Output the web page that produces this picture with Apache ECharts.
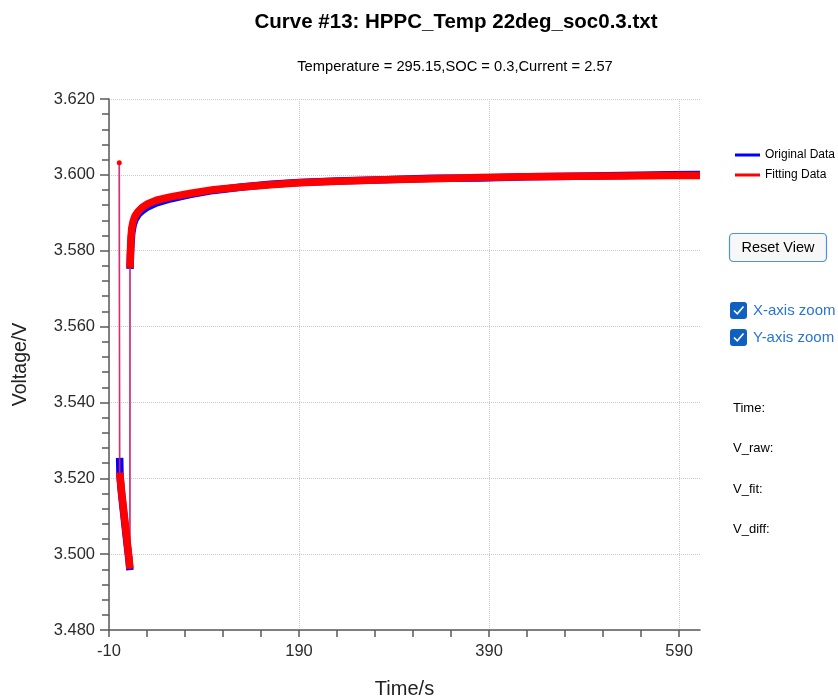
<!DOCTYPE html>
<html>
<head>
<meta charset="utf-8">
<title>Curve #13: HPPC_Temp 22deg_soc0.3.txt</title>
<script src="https://cdn.jsdelivr.net/npm/echarts@6/dist/echarts.min.js"></script>
<style>
  html, body { margin: 0; padding: 0; background: #ffffff; }
  #chart { width: 838px; height: 699px; }
</style>
</head>
<body>
<div id="chart"></div>
<script>
// HPPC pulse test at 22 degC, SOC 0.3: measured voltage vs. fitted model voltage.

// Rest point just before the current pulse [time s, voltage V]
const preRawPoint = [0.8, 3.6032];
const preFitPoint = [0.8, 3.6032];

// Voltage during the discharge pulse
const pulseTime = [1.2, 1.6, 3, 5, 7, 9, 11, 12.0];
const pulseRaw  = [3.5254, 3.5205, 3.5165, 3.5118, 3.5073, 3.5028, 3.4985, 3.4958];
const pulseFit  = [3.5215, 3.5207, 3.5170, 3.5125, 3.5080, 3.5035, 3.4990, 3.4962];

// Voltage during the relaxation after the pulse
const relaxTime = [12.1, 12.6, 13.2, 14.0, 15.5, 17.5, 20.5, 25, 31, 40, 55, 75, 100, 130, 160, 190, 230, 280, 330, 380, 430, 480, 530, 580, 612];
const relaxRaw  = [3.5752, 3.5790, 3.5822, 3.5848, 3.5868, 3.5883, 3.5895, 3.5906, 3.5916, 3.5926, 3.5937, 3.5948, 3.5959, 3.5968, 3.5975, 3.5980, 3.5984, 3.5987, 3.5991, 3.5992, 3.5995, 3.5996, 3.5998, 3.6000, 3.6001];
const relaxFit  = [3.5755, 3.5800, 3.5835, 3.5860, 3.5878, 3.5892, 3.5903, 3.5914, 3.5924, 3.5933, 3.5942, 3.5951, 3.5961, 3.5968, 3.5974, 3.5979, 3.5983, 3.5987, 3.5990, 3.5993, 3.5995, 3.5996, 3.5997, 3.5998, 3.5998];

// Axis ticks
const xMajorTicks = [-10, 190, 390, 590];
const xMinorTicks = [30, 70, 110, 150, 230, 270, 310, 350, 430, 470, 510, 550];
const yMin = 3.48, yMax = 3.62, yStep = 0.02;
const xMin = -10, xMax = 612;

const BLUE = '#0000ff';
const RED = '#ff0000';
const FONT = '"Liberation Sans", Arial, sans-serif';

function zip(ts, vs) { return ts.map((t, i) => [t, vs[i]]); }

const rawPulse = zip(pulseTime, pulseRaw);
const fitPulse = zip(pulseTime, pulseFit);
const rawRelax = zip(relaxTime, relaxRaw);
const fitRelax = zip(relaxTime, relaxFit);

// Thin jumps: rest -> pulse start, pulse end -> relaxation start
function jumps(pre, pulse, relax) {
  return [pre, pulse[0], pulse[pulse.length - 1], relax[0]];
}

function thick(name, color, data, z) {
  return {
    name, type: 'line', data, z,
    symbol: 'none', animation: false, smooth: false,
    lineStyle: { color, width: 7.5, cap: 'butt', join: 'round' },
    itemStyle: { color }
  };
}

function thin(name, color, data, z, width, opacity) {
  return {
    name, type: 'line', data, z,
    symbol: 'none', animation: false,
    lineStyle: { color, width, opacity },
    itemStyle: { color }
  };
}

const fitJumps = jumps(preFitPoint, fitPulse, fitRelax).map((p, i) =>
  i === 0 ? { value: p, symbol: 'circle', symbolSize: 5, itemStyle: { color: RED } } : p);

const chart = echarts.init(document.getElementById('chart'), null, { renderer: 'canvas' });

const axisColor = '#5a5a5a';
const labelStyle = { color: '#2b2b2b', fontFamily: FONT, fontSize: 16.5 };

chart.setOption({
  backgroundColor: '#ffffff',
  animation: false,
  grid: { left: 109, right: 138, top: 99, bottom: 69, containLabel: false, outerBoundsMode: 'none' },
  legend: {
    orient: 'vertical',
    left: 730,
    top: 143,
    icon: 'rect',
    itemWidth: 25,
    itemHeight: 3,
    itemGap: 6,
    textStyle: { color: '#000', fontFamily: FONT, fontSize: 12, lineHeight: 14 },
    data: [
      { name: 'Original Data', itemStyle: { color: BLUE } },
      { name: 'Fitting Data', itemStyle: { color: RED } }
    ]
  },
  xAxis: [
    {
      type: 'value', min: xMin, max: xMax, interval: 200, position: 'bottom',
      name: 'Time/s', nameLocation: 'middle', nameGap: 49,
      nameTextStyle: { color: '#222', fontFamily: FONT, fontSize: 20 },
      axisLine: { onZero: false, lineStyle: { color: axisColor, width: 1.5 } },
      axisTick: { show: true, length: 7, customValues: xMajorTicks, lineStyle: { color: axisColor, width: 1.5 } },
      axisLabel: Object.assign({ margin: 13, customValues: xMajorTicks }, labelStyle),
      splitLine: { show: true, lineStyle: { color: '#cccccc', type: 'dotted', width: 1 } }
    },
    {
      type: 'value', min: xMin, max: xMax, interval: 200, position: 'bottom',
      axisLine: { show: false, onZero: false },
      axisTick: { show: true, length: 7, customValues: xMinorTicks, lineStyle: { color: axisColor, width: 1.5 } },
      axisLabel: { show: false },
      splitLine: { show: false }
    }
  ],
  yAxis: {
    type: 'value', min: yMin, max: yMax, interval: yStep,
    name: 'Voltage/V', nameLocation: 'middle', nameGap: 78,
    nameTextStyle: { color: '#222', fontFamily: FONT, fontSize: 19.5 },
    axisLine: { show: true, onZero: false, lineStyle: { color: axisColor, width: 1.5 } },
    axisTick: { show: true, length: 9, lineStyle: { color: axisColor, width: 1.5 } },
    minorTick: { show: true, splitNumber: 5, length: 7, lineStyle: { color: axisColor, width: 1.5 } },
    axisLabel: Object.assign({ margin: 14, formatter: v => v.toFixed(3) }, labelStyle),
    splitLine: { show: true, lineStyle: { color: '#cccccc', type: 'dotted', width: 1 } }
  },
  series: [
    thin('Original Data', BLUE, jumps(preRawPoint, rawPulse, rawRelax), 2, 1, 0.6),
    thick('Original Data', BLUE, rawPulse, 3),
    thick('Original Data', BLUE, rawRelax, 3),
    thin('Fitting Data', '#e0245a', fitJumps, 4, 1.7, 0.85),
    thick('Fitting Data', RED, fitPulse, 5),
    thick('Fitting Data', RED, fitRelax, 5)
  ],
  graphic: [
    { type: 'text', x: 456, y: 22, z: 10,
      style: { text: 'Curve #13: HPPC_Temp 22deg_soc0.3.txt', align: 'center', verticalAlign: 'middle',
               fill: '#000', font: 'bold 20.5px ' + FONT } },
    { type: 'text', x: 455, y: 67, z: 10,
      style: { text: 'Temperature = 295.15,SOC = 0.3,Current = 2.57', align: 'center', verticalAlign: 'middle',
               fill: '#000', font: '14.7px ' + FONT } },
    // Reset View button
    { type: 'rect', shape: { x: 729.5, y: 233.5, width: 97, height: 28, r: 4 },
      style: { fill: '#f7f7f7', stroke: '#4a94e0', lineWidth: 1.2 } },
    { type: 'text', x: 778, y: 248,
      style: { text: 'Reset View', align: 'center', verticalAlign: 'middle', fill: '#000', font: '14.5px ' + FONT } },
    // zoom check boxes
    { type: 'rect', shape: { x: 730, y: 302, width: 17, height: 17, r: 3 }, style: { fill: '#0f60c0' } },
    { type: 'polyline', shape: { points: [[734, 310.5], [737.3, 313.8], [743.5, 306.5]] },
      style: { stroke: '#ffffff', lineWidth: 1.6, fill: null } },
    { type: 'text', x: 753, y: 310.5,
      style: { text: 'X-axis zoom', align: 'left', verticalAlign: 'middle', fill: '#2a74d6', font: '15px ' + FONT } },
    { type: 'rect', shape: { x: 730, y: 329, width: 17, height: 17, r: 3 }, style: { fill: '#0f60c0' } },
    { type: 'polyline', shape: { points: [[734, 337.5], [737.3, 340.8], [743.5, 333.5]] },
      style: { stroke: '#ffffff', lineWidth: 1.6, fill: null } },
    { type: 'text', x: 753, y: 337.5,
      style: { text: 'Y-axis zoom', align: 'left', verticalAlign: 'middle', fill: '#2a74d6', font: '15px ' + FONT } },
    // readout labels
    { type: 'text', x: 733, y: 408, style: { text: 'Time:', verticalAlign: 'middle', fill: '#000', font: '13px ' + FONT } },
    { type: 'text', x: 733, y: 448, style: { text: 'V_raw:', verticalAlign: 'middle', fill: '#000', font: '13px ' + FONT } },
    { type: 'text', x: 733, y: 489, style: { text: 'V_fit:', verticalAlign: 'middle', fill: '#000', font: '13px ' + FONT } },
    { type: 'text', x: 733, y: 529, style: { text: 'V_diff:', verticalAlign: 'middle', fill: '#000', font: '13px ' + FONT } }
  ]
});
</script>
</body>
</html>
